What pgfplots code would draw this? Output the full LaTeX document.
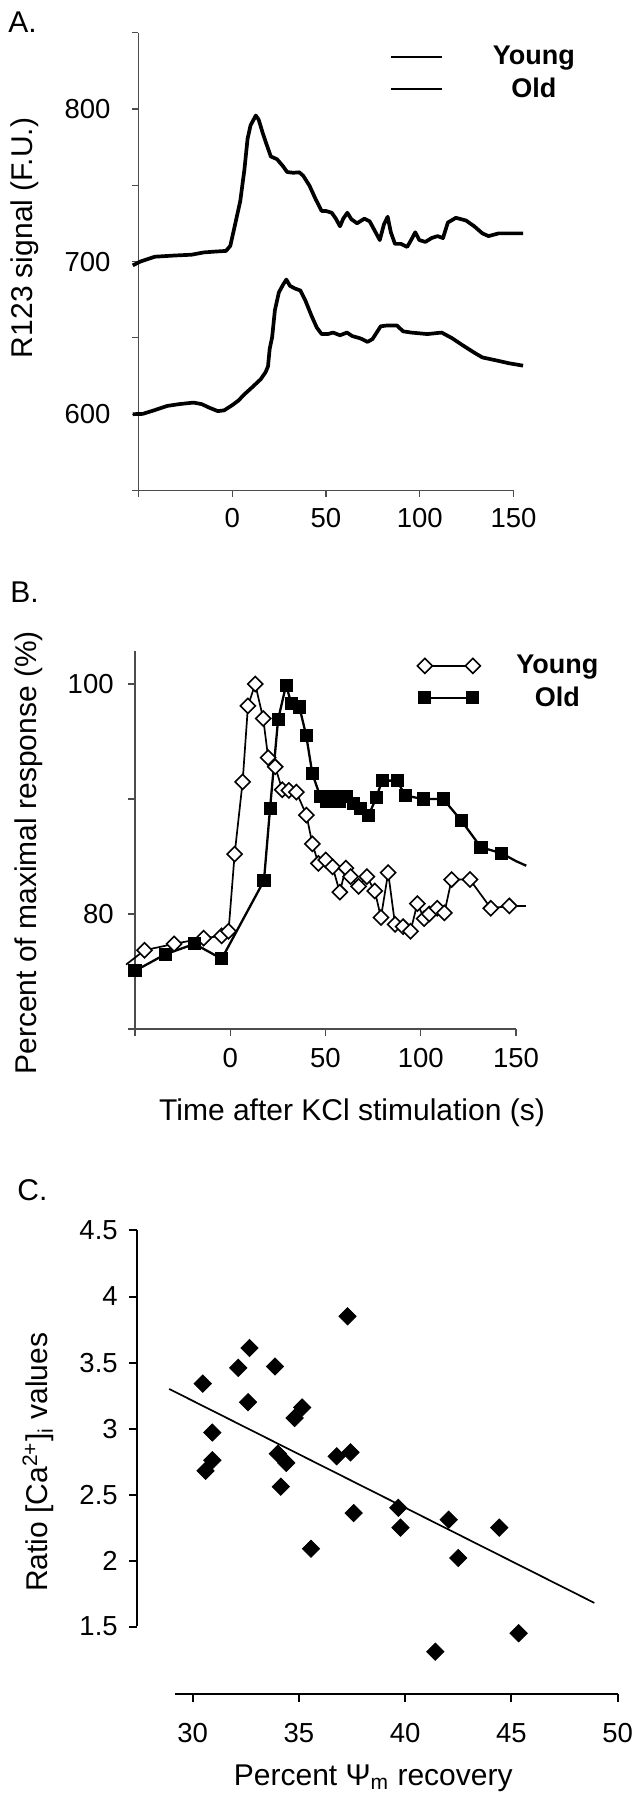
\documentclass[border=0pt]{standalone}
\usepackage{fontspec}
\setmainfont{Liberation Sans}
\usepackage{pgfplots}
\pgfplotsset{compat=1.18}
\newcommand{\tickfont}{\fontsize{13.75}{16}\selectfont}
\newcommand{\labfont}{\fontsize{15}{18}\selectfont}
\newcommand{\legfont}{\fontsize{13.5}{16}\selectfont\bfseries}
\pgfplotsset{
  panel/.style={
    scale only axis, anchor=south west, clip=false,
    axis lines=left,
    axis line style={-, black!70, line width=0.6pt},
    tick style={black!70, line width=0.6pt},
    tick align=outside,
    major tick length=3.3pt,
    /pgf/number format/assume math mode=true,
    tick label style={font=\tickfont, inner sep=0pt},
  },
}
\begin{document}
\begin{tikzpicture}
\path[use as bounding box] (0pt,0pt) rectangle (319pt,900pt);
\node[anchor=base west, inner sep=0pt, font=\labfont] at (4pt,883.75pt) {A.};
\node[anchor=base west, inner sep=0pt, font=\labfont] at (5pt,598.5pt) {B.};
\node[anchor=base west, inner sep=0pt, font=\labfont] at (8.5pt,299.5pt) {C.};

% ---------------- Panel A ----------------
\begin{axis}[panel,
  at={(69.2pt,654.75pt)}, width=187.55pt, height=228.9pt,
  xmin=-50, xmax=150, ymin=550, ymax=850,
  xtick={-50,0,50,100,150}, xticklabels={{},0,50,100,150},
  ytick={550,600,650,700,750,800,850}, yticklabels={{},600,{},700,{},800,{}},
  yticklabel shift=10.5pt, xticklabel shift=5.4pt,
  ylabel={R123 signal (F.U.)},
  every axis y label/.style={at={(axis description cs:-0.302,0.5516)}, rotate=90, anchor=center, font=\labfont},
  legend style={at={(axis description cs:0.652,0.98)}, anchor=north west,
    draw=none, fill=none, font=\legfont, row sep=5pt, column sep=25pt,
    nodes={inner sep=0pt}},
  legend cell align=center,
  legend image code/.code={\draw[#1, line width=1.2pt] (0pt,0pt) -- (25.5pt,0pt);},
]
\addplot[black, line width=1.85pt, line join=round] coordinates {
(-53,697.5) (-48.8,700.1) (-41.2,703.2) (-30.4,704) (-21.7,704.5) (-15.2,706) (-9.8,706.5) (-3.3,707) (-1,710.3) (1.1,721.8) (4.3,739.6) (6.5,760) (8.2,780.4) (9.8,789.3) (12.6,795.7) (14.1,793.1) (16.3,784.2) (18.4,776.6) (20.6,768.9) (23.9,767.1) (27.1,762.5) (29.3,758.7) (32.5,758.2) (35.8,758.5) (37.9,756.2) (41.2,749.8) (44.5,740.9) (47.7,733.2) (49.9,733.2) (53.1,732) (55.3,728.1) (57.5,723.1) (59.2,728.1) (61.4,732) (63.6,727.7) (66.6,725.1) (70.5,728.1) (73.3,726.4) (75.9,720.5) (78.7,714.1) (80.9,724.3) (82.9,729.4) (84.6,719.2) (86.8,711.6) (90,711.6) (93.3,709.6) (95.4,714.1) (97.6,719.2) (99.8,714.1) (103,712.9) (106.3,715.4) (109.5,716.7) (112.4,715.4) (115,725.6) (119.3,728.7) (124.7,726.9) (129.1,723.1) (133.4,718.5) (136.7,716.7) (142.1,718.5) (155.1,718.5)
};
\addlegendentry{Young}
\addplot[black, line width=1.85pt, line join=round] coordinates {
(-53,600) (-47.7,600.2) (-41.2,602.7) (-34.7,605.4) (-28.2,606.6) (-20.6,607.6) (-16.3,606.6) (-11.9,604.1) (-7.6,602) (-4.3,602.5) (0,605.9) (3.3,608.9) (6.5,613) (10.8,617.8) (15.2,622.9) (17.8,627.5) (19.1,631.3) (20,642.8) (21.3,650.4) (22.8,668.3) (24.9,679.8) (27.1,684.8) (28.9,688.2) (30.8,684.1) (33.6,682.3) (36.4,681) (39,674.6) (42.3,664.5) (45.1,656.8) (47.7,652.5) (51,652.5) (53.8,653.5) (57.5,651.7) (61.2,653.5) (64,651.2) (68.3,649.7) (72.2,647.4) (74.8,649.2) (79.2,657.6) (82.4,658.1) (87.9,658.1) (91.1,654.3) (95.4,653.5) (104.1,652.5) (111.7,653.5) (117.1,649.9) (123.6,644.6) (129.1,640.3) (133.4,637.2) (141,635.2) (147.5,633.4) (155.1,631.8)
};
\addlegendentry{Old}
\end{axis}

% ---------------- Panel B ----------------
\begin{axis}[panel,
  at={(67.5pt,385.5pt)}, width=190.5pt, height=189.15pt,
  xmin=-50, xmax=150, ymin=70, ymax=102.9,
  xtick={-50,0,50,100,150}, xticklabels={{},0,50,100,150},
  ytick={70,80,90,100}, yticklabels={{},80,{},100},
  yticklabel shift=7.2pt, xticklabel shift=6.2pt,
  ylabel={Percent of maximal response (\%)},
  xlabel={Time after KCl stimulation (s)},
  every axis y label/.style={at={(axis description cs:-0.2795,0.466)}, rotate=90, anchor=center, font=\labfont},
  every axis x label/.style={at={(axis description cs:0.5696,-0.222)}, anchor=center, font=\labfont},
  legend style={at={(axis description cs:0.7244,1.0)}, anchor=north west,
    draw=none, fill=none, font=\legfont, row sep=5pt, column sep=18pt,
    nodes={inner sep=0pt}},
  legend cell align=center,
  legend image code/.code={\draw[#1] plot coordinates {(0pt,0pt) (24pt,0pt)};},
]
\addplot[black, line width=0.85pt, mark=square*, mark size=2.65pt,
  mark options={fill=white, rotate=45, line width=0.8pt}] coordinates {
(-45,76.85) (-29.5,77.4) (-14.0,77.9) (-4.5,78.1) (-0.9,78.5) (2.3,85.2) (6.5,91.5) (9.3,98.1) (13.1,100) (17.3,97.0) (19.9,93.6) (23.6,92.8) (27.3,90.8) (30.8,90.75) (34.7,90.6) (40,88.6) (43.1,86.1) (46.3,84.4) (50.1,84.7) (53.7,84.1) (57.5,81.9) (60.7,84.0) (63.2,83.25) (67.4,82.4) (71.7,83.25) (75.9,82.0) (79.1,79.7) (82.9,83.6) (86.5,79.1) (90.7,78.9) (94.6,78.5) (98.2,80.9) (101.8,79.6) (104.5,80.0) (108.7,80.5) (112.4,80.1) (116.2,83.0) (125.8,83.0) (136.8,80.5) (146.5,80.7)
};
\addlegendentry{Young}
\addplot[black, line width=1.15pt, mark=square*, mark size=2.7pt,
  mark options={fill=black}] coordinates {
(-50,75.05) (-34.1,76.5) (-18.7,77.4) (-4.5,76.1) (17.7,82.9) (20.9,89.2) (25.1,96.9) (29.3,99.9) (32.1,98.3) (36.3,98.0) (39.9,95.5) (43.1,92.2) (47.3,90.2) (50.5,89.75) (54.1,90.2) (57.5,89.75) (61.1,90.2) (64.9,89.6) (68.5,89.2) (72.7,88.6) (76.6,90.1) (79.7,91.6) (87.6,91.6) (91.8,90.3) (101.3,90.0) (111.8,90.0) (121.4,88.1) (131.6,85.8) (142.2,85.3)
};
\addlegendentry{Old}
\addplot[black, line width=0.85pt, forget plot] coordinates {(-54.7,75.6) (-45,76.85)};
\addplot[black, line width=0.85pt, forget plot] coordinates {(146.5,80.7) (155.4,80.7)};
\addplot[black, line width=1.15pt, forget plot] coordinates {(142.2,85.3) (150,84.6) (155.4,84.2)};
\end{axis}

% ---------------- Panel C ----------------
\begin{axis}[panel,
  at={(68.75pt,53pt)}, width=240.1pt, height=231.75pt,
  xmin=27.41, xmax=50, ymin=0.99, ymax=4.5,
  axis line style={-, black, line width=1pt},
  tick style={black, line width=1pt},
  major tick length=4pt,
  x axis line style={shorten <=18.65pt},
  y axis line style={shorten <=33.75pt},
  xtick={30,35,40,45,50}, ytick={1.5,2,2.5,3,3.5,4,4.5},
  yticklabels={1.5,2,2.5,3,3.5,4,4.5},
  yticklabel shift=5.7pt, xticklabel shift=10.6pt,
  xlabel={Percent \textup{Ψ}\textsubscript{m} recovery},
  ylabel={Ratio [Ca\textsuperscript{2+}]\textsubscript{i} values},
  every axis y label/.style={at={(axis description cs:-0.207,0.50)}, rotate=90, anchor=center, font=\labfont},
  every axis x label/.style={at={(axis description cs:0.491,-0.181)}, anchor=center, font=\labfont},
]
\addplot[only marks, mark=square*, mark size=3.05pt, mark options={rotate=45, fill=black, draw=black}] coordinates {
(30.48,3.34) (30.61,2.68) (30.93,2.76) (30.93,2.97) (32.15,3.46) (32.68,3.61) (32.61,3.20) (33.88,3.47) (34.01,2.81) (34.41,2.74) (34.15,2.56) (34.8,3.08) (35.16,3.16) (35.57,2.09) (36.78,2.79) (37.43,2.82) (37.29,3.85) (37.58,2.36) (39.68,2.40) (39.78,2.25) (41.42,1.31) (42.05,2.31) (42.5,2.02) (44.43,2.25) (45.34,1.45)
};
\addplot[black, line width=0.85pt] coordinates {(28.9,3.30) (48.9,1.68)};
\end{axis}
\end{tikzpicture}
\end{document}
